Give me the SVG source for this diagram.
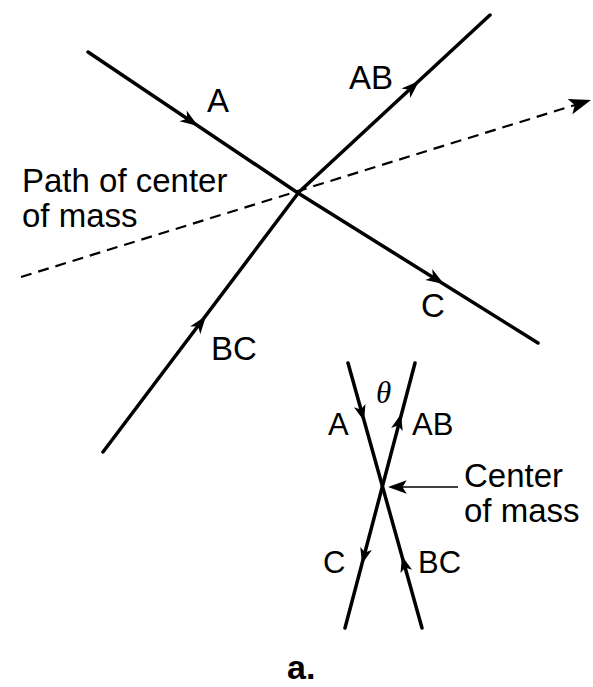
<svg xmlns="http://www.w3.org/2000/svg" width="593" height="687" viewBox="0 0 593 687">
<style>
.ln{fill:none;stroke:#000;stroke-width:3.5;stroke-linecap:round;stroke-linejoin:round}
.ds{fill:none;stroke:#000;stroke-width:2.2;stroke-dasharray:11,7}
.th{fill:none;stroke:#000;stroke-width:1.5}
.t{font-family:"Liberation Sans",Arial,sans-serif;font-size:33px;fill:#000}
.ts{font-family:"Liberation Sans",Arial,sans-serif;font-size:31px;fill:#000}
</style>
<defs>
<path id="ah" d="M0,0 L-18,-6.5 L-13,0 L-18,6.5 Z"/>
<path id="ahs" d="M0,0 L-16,-6 L-12,0 L-16,6 Z"/>
<path id="ahd" d="M0,0 L-22,-8 L-17,0 L-22,8 Z"/>
</defs>
<g id="connectors">
<path class="ln" d="M88,52 L298,193 L538,343"/>
<path class="ln" d="M103,452 L299,192 L490,15"/>
<path class="ds" d="M21,277 L575,105"/>
<use href="#ahd" transform="translate(591,100) rotate(-17.5)"/>
<use href="#ah" transform="translate(198,126) rotate(33.9)"/>
<use href="#ah" transform="translate(419,81) rotate(-43)"/>
<use href="#ah" transform="translate(444,284) rotate(32)"/>
<use href="#ah" transform="translate(206,316) rotate(-52.8)"/>
<path class="ln" d="M348,363 L422,628"/>
<path class="ln" d="M415,363 L345,628"/>
<use href="#ahs" transform="translate(364,421) rotate(74.4)"/>
<use href="#ahs" transform="translate(401,414) rotate(-75.2)"/>
<use href="#ahs" transform="translate(362,564) rotate(104.8)"/>
<use href="#ahs" transform="translate(402,556) rotate(-105.6)"/>
<path class="th" d="M458,487 L400,487"/>
<use href="#ahd" transform="translate(388,487) rotate(180) scale(0.85)"/>
</g>
<g id="labels-upper">
<text class="t" x="207" y="112">A</text>
<text class="t" x="349" y="89">AB</text>
<text class="t" x="421" y="317">C</text>
<text class="t" x="211" y="360">BC</text>
<text class="t" x="22" y="192">Path of center</text>
<text class="t" x="22" y="227">of mass</text>
</g>
<g id="labels-lower">
<text x="376" y="403" style="font-family:'Liberation Serif',serif;font-style:italic;font-size:31px">θ</text>
<text class="ts" x="328" y="435">A</text>
<text class="ts" x="412" y="435">AB</text>
<text class="ts" x="323" y="573">C</text>
<text class="ts" x="418" y="573">BC</text>
<text class="t" x="464" y="487">Center</text>
<text class="t" x="464" y="522">of mass</text>
</g>
<text x="287" y="679" style="font-family:'Liberation Sans',Arial,sans-serif;font-weight:bold;font-size:34px">a.</text>
</svg>
